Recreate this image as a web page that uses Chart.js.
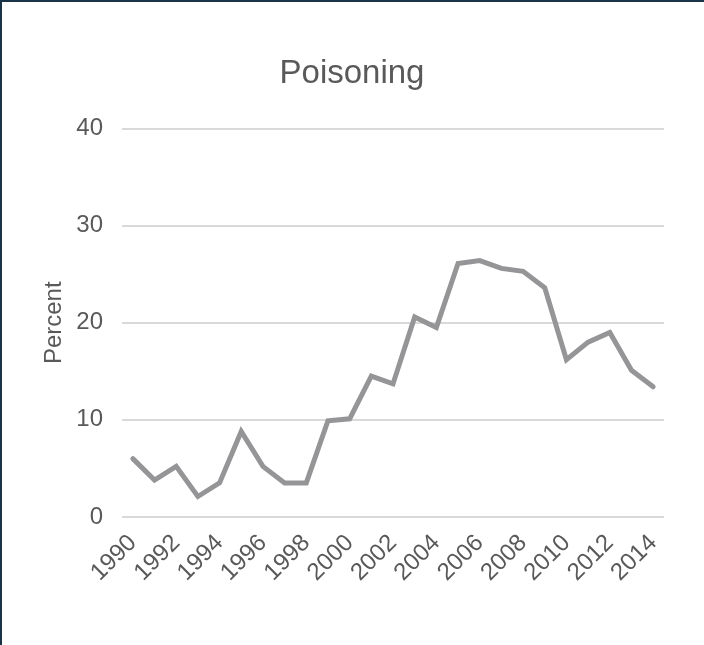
<!DOCTYPE html>
<html>
<head>
<meta charset="utf-8">
<title>Poisoning</title>
<script src="https://cdn.jsdelivr.net/npm/chart.js@4.4.1/dist/chart.umd.min.js"></script>
<style>
    html, body { margin: 0; padding: 0; background: #ffffff; overflow: hidden; }
    #wrap { position: relative; width: 704px; height: 645px; }
    #frame {
        position: absolute; left: 0; top: 0; width: 704px; height: 645px;
        box-sizing: border-box; border-top: 2px solid #1b3346; border-left: 2px solid #1b3346;
        pointer-events: none;
    }
</style>
</head>
<body>
<div id="wrap">
    <canvas id="poisonChart" width="704" height="645"></canvas>
    <div id="frame"></div>
</div>
<script>
// Chart data
const years = ['1990', '1991', '1992', '1993', '1994', '1995', '1996', '1997', '1998', '1999',
    '2000', '2001', '2002', '2003', '2004', '2005', '2006', '2007', '2008', '2009',
    '2010', '2011', '2012', '2013', '2014'];
const percentValues = [6.0, 3.8, 5.2, 2.1, 3.5, 8.8, 5.2, 3.5, 3.5, 9.9,
    10.1, 14.5, 13.7, 20.6, 19.5, 26.1, 26.4, 25.6, 25.3, 23.6,
    16.2, 18.0, 19.0, 15.1, 13.4];
const yTicks = [0, 10, 20, 30, 40];

const fontFamily = '"Liberation Sans", Arial, Helvetica, sans-serif';
const textGray = '#595959';

const ctx = document.getElementById('poisonChart');

new Chart(ctx, {
    type: 'line',
    data: {
        labels: years,
        datasets: [{
            label: 'Poisoning',
            data: percentValues,
            borderColor: '#959597',
            borderWidth: 5,
            borderCapStyle: 'round',
            pointRadius: 0,
            tension: 0,
            fill: false
        }]
    },
    options: {
        responsive: false,
        animation: false,
        layout: {
            padding: { left: 40, right: 40, top: 0, bottom: 54 }
        },
        scales: {
            x: {
                offset: true,
                grid: { display: false },
                border: { display: false },
                // rotated labels fit inside the y axis room, no extra left margin
                afterFit: function(scale) {
                    scale.paddingLeft = 0;
                },
                ticks: {
                    color: textGray,
                    font: { family: fontFamily, size: 24 },
                    minRotation: 45,
                    maxRotation: 45,
                    autoSkip: false,
                    padding: 4,
                    callback: function(value, index) {
                        return index % 2 === 0 ? this.getLabelForValue(value) : '';
                    }
                }
            },
            y: {
                min: yTicks[0],
                max: yTicks[yTicks.length - 1],
                afterBuildTicks: function(scale) {
                    scale.ticks = yTicks.map(v => ({ value: v }));
                },
                // fixed axis width so the plot starts where the reference does
                afterFit: function(scale) {
                    scale.width = 82;
                },
                grid: { color: '#d9d9d9', lineWidth: 2, drawTicks: false },
                border: { display: false },
                ticks: {
                    color: textGray,
                    font: { family: fontFamily, size: 24 },
                    padding: 19
                },
                title: {
                    display: true,
                    text: 'Percent',
                    color: textGray,
                    font: { family: fontFamily, size: 24 },
                    padding: { top: 0, bottom: 7 }
                }
            }
        },
        plugins: {
            legend: { display: false },
            tooltip: { enabled: false },
            title: {
                display: true,
                text: 'Poisoning',
                color: textGray,
                font: { family: fontFamily, size: 33, weight: 'normal' },
                padding: { top: 54, bottom: 35 }
            }
        }
    }
});
</script>
</body>
</html>
